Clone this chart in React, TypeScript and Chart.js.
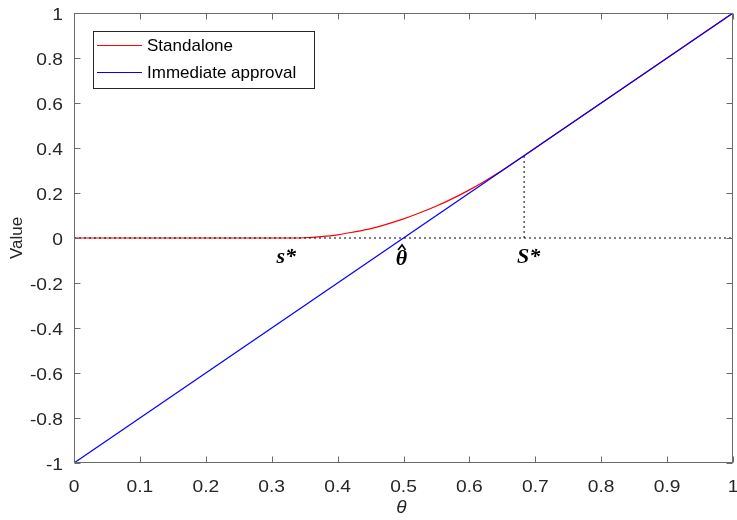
import React, { useEffect, useRef } from "react";
import { Chart, registerables } from "chart.js";

Chart.register(...registerables);

// ---- data ----
const thetaRed = [0, 0.1, 0.2, 0.3, 0.33, 0.35, 0.375, 0.4, 0.425, 0.45, 0.475, 0.5, 0.525, 0.55, 0.575, 0.6, 0.625, 0.65, 0.683, 0.75, 0.8, 0.9, 1];
const valueRed = [0, 0, 0, 0, 0, 0.001, 0.006, 0.014, 0.027, 0.042, 0.062, 0.085, 0.112, 0.142, 0.176, 0.214, 0.256, 0.301, 0.366, 0.5, 0.6, 0.8, 1];
const thetaBlue = [0, 1];
const valueBlue = [-1, 1];
const zeroLineTheta = [0, 1];
const zeroLineValue = [0, 0];
const sStarTheta = [0.683, 0.683];
const sStarValue = [0, 0.366];
const xTicks = [0, 0.1, 0.2, 0.3, 0.4, 0.5, 0.6, 0.7, 0.8, 0.9, 1];
const xTickLabels = ["0", "0.1", "0.2", "0.3", "0.4", "0.5", "0.6", "0.7", "0.8", "0.9", "1"];
const yTicks = [-1, -0.8, -0.6, -0.4, -0.2, 0, 0.2, 0.4, 0.6, 0.8, 1];
const yTickLabels = ["-1", "-0.8", "-0.6", "-0.4", "-0.2", "0", "0.2", "0.4", "0.6", "0.8", "1"];
const legendLabels = ["Standalone", "Immediate approval"];
const legendColors = ["#ff0000", "#0000ff"];
const markerLabels = ["s*", "θ", "S*"];
const markerTheta = [0.322, 0.497, 0.69];
const markerValue = [-0.084, -0.093, -0.085];
const xTitle = "θ";
const yTitle = "Value";

const pts = (xs: number[], ys: number[]) => xs.map((x, i) => ({ x, y: ys[i] }));

const decorPlugin = {
  id: "decor",
  afterDraw(chart: any) {
    const ctx = chart.ctx as CanvasRenderingContext2D;
    const ca = chart.chartArea;
    const xs = chart.scales.x;
    const ys = chart.scales.y;
    const L = Math.round(ca.left) + 0.5;
    const R = Math.round(ca.right) - 0.5;
    const T = Math.round(ca.top) + 0.5;
    const B = Math.round(ca.bottom) - 0.5;
    ctx.save();
    // box + ticks
    ctx.strokeStyle = "#6a6a6a";
    ctx.lineWidth = 1;
    ctx.strokeRect(L, T, R - L, B - T);
    const tl = 6;
    ctx.beginPath();
    xTicks.forEach((v) => {
      const px = Math.round(xs.getPixelForValue(v)) + 0.5;
      ctx.moveTo(px, B);
      ctx.lineTo(px, B - tl);
      ctx.moveTo(px, T);
      ctx.lineTo(px, T + tl);
    });
    yTicks.forEach((v) => {
      const py = Math.round(ys.getPixelForValue(v)) + 0.5;
      ctx.moveTo(L, py);
      ctx.lineTo(L + tl, py);
      ctx.moveTo(R, py);
      ctx.lineTo(R - tl, py);
    });
    ctx.stroke();

    // tick labels (slightly wide glyphs)
    ctx.fillStyle = "#262626";
    ctx.font = "16px 'Liberation Sans', Arial, sans-serif";
    ctx.textBaseline = "alphabetic";
    ctx.textAlign = "center";
    xTicks.forEach((v, i) => {
      const px = xs.getPixelForValue(v);
      ctx.save();
      ctx.translate(px, ca.bottom + 29);
      ctx.scale(1.2, 1);
      ctx.fillText(xTickLabels[i], 0, 0);
      ctx.restore();
    });
    ctx.textAlign = "right";
    ctx.textBaseline = "middle";
    yTicks.forEach((v, i) => {
      const py = ys.getPixelForValue(v);
      ctx.save();
      ctx.translate(ca.left - 11, py + 2.5);
      ctx.scale(1.2, 1);
      ctx.fillText(yTickLabels[i], 0, 0);
      ctx.restore();
    });

    // axis titles
    ctx.textAlign = "center";
    ctx.textBaseline = "middle";
    ctx.font = "italic 19px 'Liberation Sans', Arial, sans-serif";
    ctx.fillText(xTitle, (ca.left + ca.right) / 2 - 2, 508);
    ctx.save();
    ctx.translate(17, (ca.top + ca.bottom) / 2);
    ctx.rotate(-Math.PI / 2);
    ctx.font = "17px 'Liberation Sans', Arial, sans-serif";
    ctx.fillText(yTitle, 0, 0);
    ctx.restore();

    // marker labels
    ctx.fillStyle = "#000";
    ctx.font = "bold italic 22px 'Liberation Serif', 'Times New Roman', serif";
    markerLabels.forEach((t, i) => {
      const px = xs.getPixelForValue(markerTheta[i]);
      const py = ys.getPixelForValue(markerValue[i]);
      ctx.fillText(t, px, py);
      if (i === 1) {
        ctx.beginPath();
        ctx.lineWidth = 1.6;
        ctx.strokeStyle = "#000";
        ctx.moveTo(px - 3.5, py - 9);
        ctx.lineTo(px + 0.5, py - 14);
        ctx.lineTo(px + 4, py - 9);
        ctx.stroke();
      }
    });

    // legend
    const lx = 93.5, ly = 31.5, lw = 221, lh = 57;
    ctx.fillStyle = "#fff";
    ctx.fillRect(lx, ly, lw, lh);
    ctx.strokeStyle = "#262626";
    ctx.lineWidth = 1;
    ctx.strokeRect(lx, ly, lw, lh);
    ctx.font = "17px 'Liberation Sans', Arial, sans-serif";
    ctx.textAlign = "left";
    ctx.textBaseline = "middle";
    legendLabels.forEach((t, i) => {
      const y = 45.5 + i * 27;
      ctx.strokeStyle = legendColors[i];
      ctx.beginPath();
      ctx.moveTo(97, y);
      ctx.lineTo(142, y);
      ctx.stroke();
      ctx.fillStyle = "#000";
      ctx.fillText(t, 147, y + 1);
    });
    ctx.restore();
  },
};

export default function App() {
  const ref = useRef<HTMLCanvasElement | null>(null);
  useEffect(() => {
    if (!ref.current) return;
    const chart = new Chart(ref.current, {
      type: "line",
      data: {
        datasets: [
          {
            label: "zero",
            data: pts(zeroLineTheta, zeroLineValue),
            borderColor: "#000",
            borderWidth: 1,
            borderDash: [2, 3],
            pointRadius: 0,
            tension: 0,
          },
          {
            label: "sstar",
            data: pts(sStarTheta, sStarValue),
            borderColor: "#000",
            borderWidth: 1,
            borderDash: [2, 3],
            pointRadius: 0,
            tension: 0,
          },
          {
            label: legendLabels[1],
            data: pts(thetaBlue, valueBlue),
            borderColor: legendColors[1],
            borderWidth: 1.2,
            pointRadius: 0,
            tension: 0,
          },
          {
            label: legendLabels[0],
            data: pts(thetaRed, valueRed),
            borderColor: legendColors[0],
            borderWidth: 1.2,
            pointRadius: 0,
            cubicInterpolationMode: "monotone",
          },
        ],
      },
      options: {
        animation: false,
        responsive: false,
        parsing: false as any,
        layout: { padding: { top: 13, right: 4, left: 0, bottom: 0 } },
        plugins: { legend: { display: false }, tooltip: { enabled: false } },
        scales: {
          x: {
            type: "linear",
            min: 0,
            max: 1,
            grid: { display: false, drawTicks: false },
            border: { display: false },
            ticks: { display: false, stepSize: 0.1 },
            afterFit: (s: any) => { s.height = 57; },
          },
          y: {
            type: "linear",
            min: -1,
            max: 1,
            grid: { display: false, drawTicks: false },
            border: { display: false },
            ticks: { display: false, stepSize: 0.2 },
            afterFit: (s: any) => { s.width = 74; },
          },
        },
      },
      plugins: [decorPlugin],
    });
    return () => chart.destroy();
  }, []);
  return (
    <div style={{ position: "absolute", left: 0, top: 0, width: 737, height: 520, background: "#fff" }}>
      <canvas ref={ref} width={737} height={520} style={{ width: 737, height: 520 }} />
    </div>
  );
}
